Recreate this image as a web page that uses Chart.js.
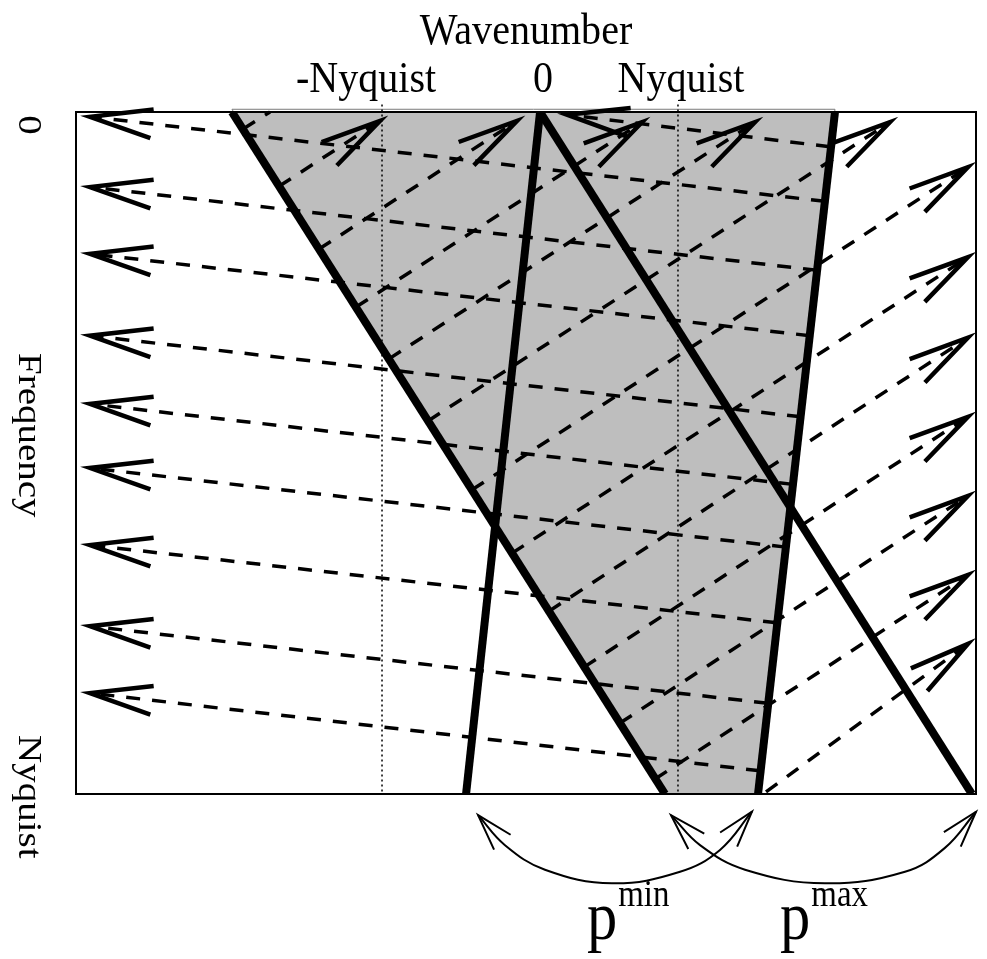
<!DOCTYPE html>
<html lang="en">
<head>
<meta charset="utf-8">
<title>Dip passband in the frequency-wavenumber plane</title>
<script src="https://cdn.jsdelivr.net/npm/chart.js"></script>
<style>
  html, body { margin: 0; padding: 0; background: #ffffff; }
</style>
</head>
<body>
<canvas id="myChart" width="987" height="959"></canvas>
<script>
// wavenumber in units of Nyquist (dotted lines at -1 and +1),
// frequency from 0 (top) to 1 = Nyquist (bottom)
const kAxisTicks = [-1.108, 0.088, 1.020];
const kAxisLabels = ['-Nyquist', '0', 'Nyquist'];
const fAxisTicks = [0.019, 0.474, 1.004];
const fAxisLabels = ['0', 'Frequency', 'Nyquist'];

const nyquistK = [-1, 1];
const nyquistF = [-0.011, 1];

// thick dip lines: wavenumber at f = 0 and at f = 1
const lineF = [0, 1];
const pMaxAliasK = [-2.014, 0.912];
const pMinK = [0.068, -0.432];
const pMaxK = [0.068, 2.986];
const pMinAliasK = [2.061, 1.541];

// shaded pass band
const bandK = [-2.014, 2.061, 1.541, 0.912, -2.014];
const bandF = [-0.004, -0.004, 1, 1, -0.004];

// dashed rays going left, starting on the aliased p-min line
const leftFromK = [2.027, 1.993, 1.939, 1.892, 1.831, 1.777, 1.730, 1.669, 1.608, 1.554];
const leftFromF = [0.051, 0.131, 0.232, 0.328, 0.447, 0.546, 0.638, 0.749, 0.867, 0.966];
const leftToK = [0.250, -2.973, -2.973, -2.973, -2.973, -2.973, -2.973, -2.973, -2.973, -2.973];
const leftToF = [0.004, 0.007, 0.110, 0.208, 0.328, 0.428, 0.522, 0.635, 0.754, 0.852];

// dashed rays going right, starting on the aliased p-max line
const rightFromK = [-1.939, -1.696, -1.426, -1.176, -0.953, -0.689, -0.392, -0.122, 0.128, 0.365, 0.608, 0.845, 1.595];
const rightFromF = [0.025, 0.109, 0.201, 0.286, 0.362, 0.453, 0.554, 0.647, 0.732, 0.814, 0.896, 0.978, 0.997];
const rightToK = [-1.757, -1.014, -0.088, 0.757, 1.520, 2.432, 2.959, 2.959, 2.959, 2.959, 2.959, 2.959, 2.959];
const rightToF = [0.000, 0.013, 0.013, 0.015, 0.015, 0.015, 0.081, 0.213, 0.331, 0.447, 0.563, 0.679, 0.780];
const rightHead = [false, true, true, true, true, true, true, true, true, true, true, true, true];

// curved double arrows under the frame
const pMinArcK = [-0.351, -0.169, 0.101, 0.554, 1.014, 1.284, 1.500];
const pMinArcF = [1.031, 1.075, 1.111, 1.131, 1.114, 1.082, 1.026];
const pMaxArcK = [0.953, 1.149, 1.453, 1.993, 2.534, 2.804, 3.014];
const pMaxArcF = [1.031, 1.075, 1.111, 1.131, 1.114, 1.079, 1.026];
const arcLabelK = [0.385, 1.690];
const arcLabelF = 1.212;
const arcLabels = ['min', 'max'];

const pts = (ks, fs) => ks.map((k, i) => ({ x: k, y: fs[i] }));
const seg = (k0, f0, k1, f1) => [{ x: k0, y: f0 }, { x: k1, y: f1 }];

const datasets = [];

datasets.push({
    data: pts(bandK, bandF),
    fill: 'shape',
    backgroundColor: '#bebebe',
    borderColor: '#7a7a7a',
    borderWidth: 1,
    order: 10,
    clip: false
});

nyquistK.forEach(k => {
    datasets.push({
        data: pts([k, k], nyquistF),
        borderColor: '#000',
        borderWidth: 1.5,
        borderDash: [2, 3],
        order: 8,
        clip: false
    });
});

leftFromK.forEach((k, i) => {
    datasets.push({
        data: seg(k, leftFromF[i], leftToK[i], leftToF[i]),
        borderColor: '#000',
        borderWidth: 3.5,
        borderDash: [14, 12],
        order: 5,
        clip: false,
        heads: ['end'], headLen: 64, headDeg: 13, headWidth: 4.5
    });
});

rightFromK.forEach((k, i) => {
    datasets.push({
        data: seg(k, rightFromF[i], rightToK[i], rightToF[i]),
        borderColor: '#000',
        borderWidth: 3.5,
        borderDash: [14, 12],
        order: 5,
        clip: false,
        heads: rightHead[i] ? ['end'] : null, headLen: 62, headDeg: 13, headWidth: 4.5
    });
});

[pMaxAliasK, pMinK, pMaxK, pMinAliasK].forEach(ks => {
    datasets.push({
        data: pts(ks, lineF),
        borderColor: '#000',
        borderWidth: 8,
        order: 1
    });
});

[[pMinArcK, pMinArcF], [pMaxArcK, pMaxArcF]].forEach(([ks, fs]) => {
    datasets.push({
        data: pts(ks, fs),
        borderColor: '#000',
        borderWidth: 2,
        tension: 0.4,
        order: 1,
        clip: false,
        heads: ['start', 'end'], headLen: 38, headDeg: 17, headWidth: 2
    });
});

function barb(ctx, from, tip, len, deg) {
    const a = Math.atan2(tip.y - from.y, tip.x - from.x);
    const w = deg * Math.PI / 180;
    ctx.beginPath();
    ctx.moveTo(tip.x - len * Math.cos(a - w), tip.y - len * Math.sin(a - w));
    ctx.lineTo(tip.x, tip.y);
    ctx.lineTo(tip.x - len * Math.cos(a + w), tip.y - len * Math.sin(a + w));
    ctx.stroke();
}

const frame = {
    id: 'frame',
    afterDatasetsDraw(chart) {
        const { ctx, chartArea: a } = chart;
        ctx.save();
        ctx.strokeStyle = '#000';
        ctx.lineWidth = 2;
        ctx.strokeRect(a.left, a.top, a.right - a.left, a.bottom - a.top);
        ctx.restore();
    }
};

const arrowHeads = {
    id: 'arrowHeads',
    afterDatasetsDraw(chart) {
        const ctx = chart.ctx;
        chart.data.datasets.forEach((ds, i) => {
            if (!ds.heads) return;
            const p = chart.getDatasetMeta(i).data;
            const n = p.length;
            ctx.save();
            ctx.strokeStyle = ds.borderColor;
            ctx.lineWidth = ds.headWidth;
            ctx.lineJoin = 'miter';
            ctx.setLineDash([]);
            if (ds.heads.includes('end')) barb(ctx, p[n - 2], p[n - 1], ds.headLen, ds.headDeg);
            if (ds.heads.includes('start')) barb(ctx, p[1], p[0], ds.headLen, ds.headDeg);
            ctx.restore();
        });
    }
};

function text(ctx, str, x, y, size, o) {
    ctx.save();
    ctx.translate(x, y);
    if (o.rotate) ctx.rotate(o.rotate);
    ctx.scale(o.sx || 1, o.sy || 1);
    ctx.font = size + 'px "Liberation Serif", "Times New Roman", serif';
    ctx.textAlign = o.align || 'center';
    ctx.textBaseline = 'alphabetic';
    ctx.fillStyle = '#000';
    ctx.fillText(str, 0, 0);
    ctx.restore();
}

const labels = {
    id: 'labels',
    afterDraw(chart) {
        const { ctx, chartArea: a, scales: { x, y } } = chart;
        text(ctx, 'Wavenumber', (a.left + a.right) / 2, a.top - 68, 45, { sx: 0.89 });
        kAxisTicks.forEach((k, i) => {
            text(ctx, kAxisLabels[i], x.getPixelForValue(k), a.top - 20, 45, { sx: 0.89 });
        });
        fAxisTicks.forEach((f, i) => {
            text(ctx, fAxisLabels[i], a.left - 57, y.getPixelForValue(f), 39, { rotate: Math.PI / 2, sy: 0.89 });
        });
        arcLabelK.forEach((k, i) => {
            const px = x.getPixelForValue(k);
            const py = y.getPixelForValue(arcLabelF);
            text(ctx, 'p', px, py, 68, { sx: 0.89, align: 'left' });
            ctx.font = '68px "Liberation Serif", serif';
            const w = ctx.measureText('p').width * 0.89;
            text(ctx, arcLabels[i], px + w + 1, py - 33, 37, { sx: 0.89, align: 'left' });
        });
    }
};

const ctx = document.getElementById('myChart');

new Chart(ctx, {
    type: 'scatter',
    data: { datasets: datasets.map(d => Object.assign({ showLine: true, pointRadius: 0 }, d)) },
    options: {
        responsive: false,
        animation: false,
        devicePixelRatio: 1,
        events: [],
        layout: { padding: { left: 76, right: 11, top: 112, bottom: 165 } },
        plugins: { legend: { display: false }, tooltip: { enabled: false } },
        elements: { point: { radius: 0 }, line: { capBezierPoints: false } },
        scales: {
            x: { type: 'linear', min: -3.068, max: 3.014, display: false },
            y: { type: 'linear', min: 0, max: 1, reverse: true, display: false }
        }
    },
    plugins: [frame, arrowHeads, labels]
});
</script>
</body>
</html>
